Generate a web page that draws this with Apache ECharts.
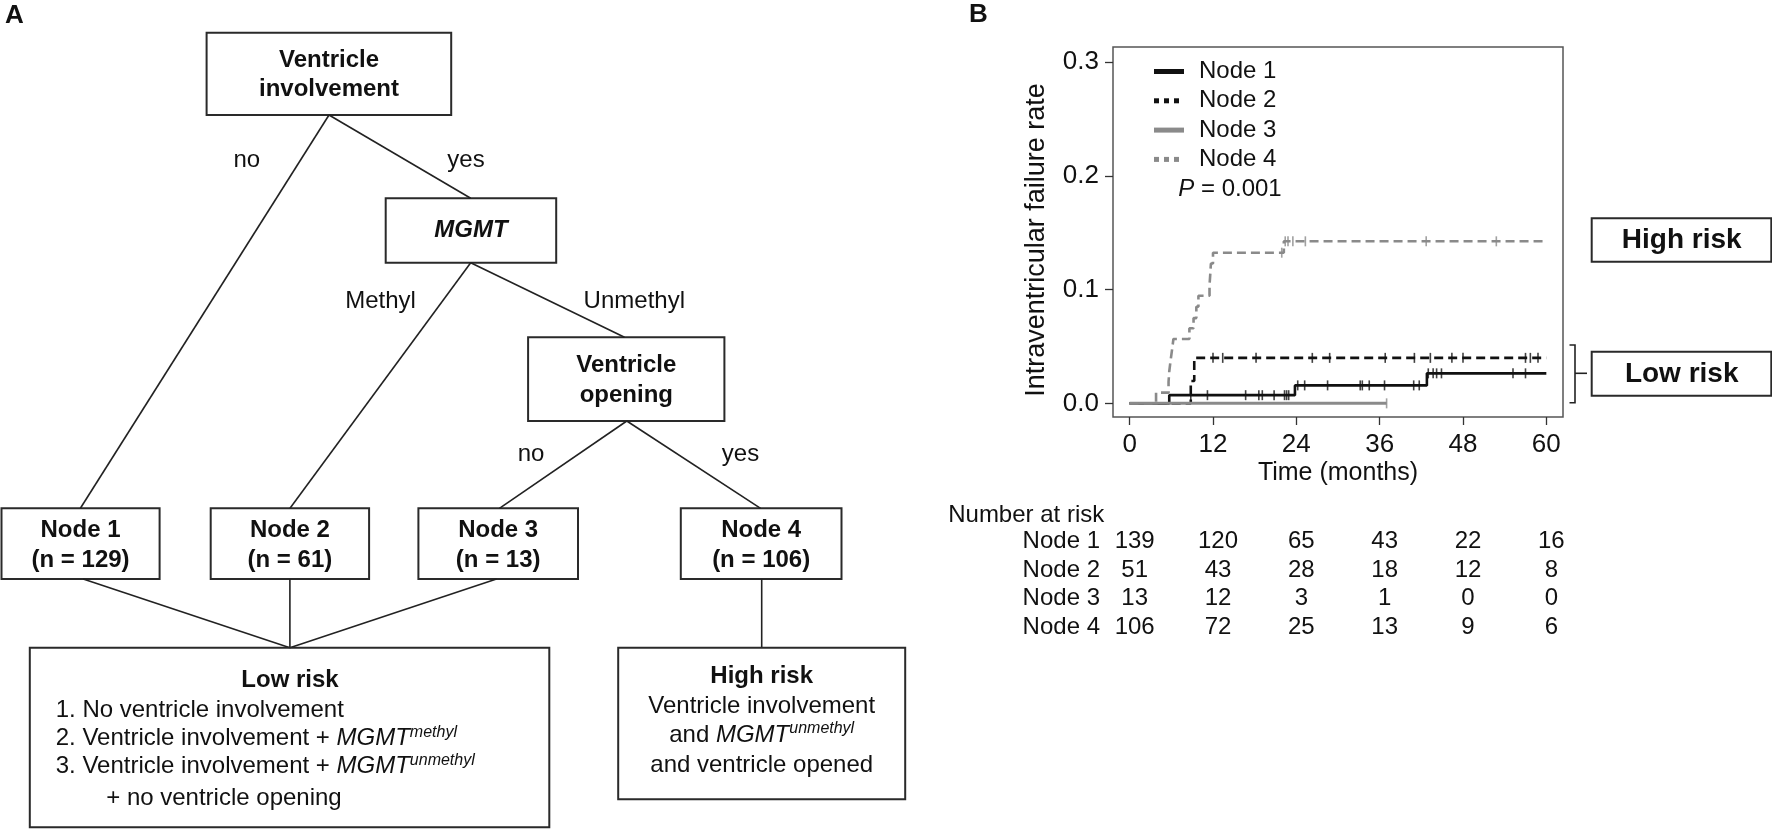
<!DOCTYPE html>
<html><head><meta charset="utf-8">
<script src="https://cdn.jsdelivr.net/npm/echarts@6/dist/echarts.min.js"></script>
<style>html,body{margin:0;padding:0;background:#fff}#c{width:1772px;height:829px}</style>
</head><body><div id="c"></div>
<script>
// ---------- data ----------
const seriesNames = ['Node 1', 'Node 2', 'Node 3', 'Node 4'];
const node1Times = [0, 5.7, 23.8, 42.8, 60];
const node1Rates = [0, 0.0072, 0.0158, 0.0264, 0.0264];
const node1Censor = [8.8, 11.2, 16.7, 18.6, 19.1, 20.8, 22.3, 22.6, 22.9, 24.2, 25.2, 28.5, 33.2, 33.5, 34.5, 36.7, 40.9, 41.7, 43.0, 43.7, 44.2, 44.9, 55.2, 57.0];
const node2Times = [0, 8.8, 9.3, 60];
const node2Rates = [0, 0.0196, 0.0400, 0.0400];
const node2Censor = [12.0, 13.4, 18.2, 26.3, 28.8, 36.8, 41.0, 43.3, 46.4, 48.0, 57.0, 57.7, 58.8];
const node3Times = [0, 37];
const node3Rates = [0, 0];
const node3Censor = [37];
const node4Times = [0, 3.8, 5.6, 5.7, 5.9, 6.1, 6.3, 8.6, 9.2, 9.6, 9.9, 11.5, 11.6, 11.7, 12.0, 22.2, 60];
const node4Rates = [0, 0.0094, 0.019, 0.028, 0.038, 0.047, 0.0566, 0.066, 0.075, 0.085, 0.0947, 0.104, 0.113, 0.123, 0.1325, 0.1425, 0.1425];
const node4Censor = [21.9, 22.4, 22.8, 23.5, 25.3, 42.7, 52.8];
const xTicks = [0, 12, 24, 36, 48, 60];
const yTicks = [0, 0.1, 0.2, 0.3];
const riskTimes = [0, 12, 24, 36, 48, 60];
const riskNode1 = [139, 120, 65, 43, 22, 16];
const riskNode2 = [51, 43, 28, 18, 12, 8];
const riskNode3 = [13, 12, 3, 1, 0, 0];
const riskNode4 = [106, 72, 25, 13, 9, 6];
const treeNodeN = [129, 61, 13, 106];
const pValue = '0.001';

// ---------- styles ----------
const FF = '"Liberation Sans", Arial, Helvetica, sans-serif';
const BLACK = '#111111', GREY = '#8a8a8a', TXT = '#111111';
const colors = [BLACK, BLACK, GREY, GREY];
const dashes = ['solid', [9, 5], 'solid', [9, 5]];
const widths = [2.6, 2.6, 3, 2.6];
const allTimes = [node1Times, node2Times, node3Times, node4Times];
const allRates = [node1Rates, node2Rates, node3Rates, node4Rates];
const allCensor = [node1Censor, node2Censor, node3Censor, node4Censor];
const allRisk = [riskNode1, riskNode2, riskNode3, riskNode4];

function levelAt(times, rates, t) {
  let v = rates[0];
  for (let i = 0; i < times.length; i++) if (times[i] <= t) v = rates[i];
  return v;
}

const series = [];
seriesNames.forEach((nm, k) => {
  series.push({
    name: nm, type: 'line', step: 'end', symbol: 'none', silent: true,
    xAxisIndex: 0, yAxisIndex: 0,
    data: allTimes[k].map((t, i) => [t, allRates[k][i]]),
    lineStyle: { color: colors[k], width: widths[k], type: dashes[k] },
    itemStyle: { color: colors[k] }, z: 2 + k
  });
});
seriesNames.forEach((nm, k) => {
  series.push({
    name: nm + ' censored', type: 'scatter', symbol: 'rect', symbolSize: [1.6, 10], silent: true,
    xAxisIndex: 0, yAxisIndex: 0,
    data: allCensor[k].map(t => [t, levelAt(allTimes[k], allRates[k], t)]),
    itemStyle: { color: colors[k] }, z: 10
  });
});
seriesNames.forEach((nm, k) => {
  series.push({
    name: nm + ' at risk', type: 'scatter', symbolSize: 0, silent: true,
    xAxisIndex: 1, yAxisIndex: 1,
    itemStyle: { color: TXT, opacity: 1 },
    data: riskTimes.map((t, i) => [t, nm, allRisk[k][i]]),
    label: { show: true, position: 'inside', offset: [5, 0], formatter: p => String(p.value[2]),
      fontFamily: FF, fontSize: 24, color: TXT, opacity: 1, textBorderWidth: 0 }
  });
});

// ---------- diagram (panel A) helpers ----------
const G = [];
function box(x, y, w, h) {
  G.push({ type: 'rect', shape: { x: x, y: y, width: w, height: h }, silent: true,
    style: { fill: 'rgba(0,0,0,0)', stroke: '#2a2a2a', lineWidth: 2 } });
}
function seg(x1, y1, x2, y2) {
  G.push({ type: 'line', shape: { x1: x1, y1: y1, x2: x2, y2: y2 }, silent: true,
    style: { stroke: '#222', lineWidth: 1.6 } });
}
function txt(s, x, y, opts) {
  opts = opts || {};
  const st = {
    text: s, x: x, y: y, fill: TXT,
    font: (opts.style || 'normal') + ' ' + (opts.weight || 'normal') + ' ' + (opts.size || 24) + 'px ' + FF,
    textAlign: opts.align || 'center', textVerticalAlign: 'middle'
  };
  if (opts.rich) st.rich = opts.rich;
  G.push({ type: 'text', silent: true, style: st });
}
const supRich = {
  n: { fontSize: 24, fontFamily: FF, lineHeight: 28 },
  i: { fontSize: 24, fontFamily: FF, fontStyle: 'italic', lineHeight: 28 },
  s: { fontSize: 16, fontFamily: FF, fontStyle: 'italic', lineHeight: 20, verticalAlign: 'top' }
};

// panel labels
txt('A', 5, 16, { weight: 'bold', size: 26, align: 'left' });
txt('B', 969, 15, { weight: 'bold', size: 26, align: 'left' });

// tree boxes
box(206.6, 32.7, 244.6, 82.3);
txt('Ventricle', 329, 60, { weight: 'bold' });
txt('involvement', 329, 89.3, { weight: 'bold' });
box(385.7, 198.3, 170.5, 64.4);
txt('MGMT', 471, 230.5, { weight: 'bold', style: 'italic' });
box(528.1, 337.3, 196.3, 83.7);
txt('Ventricle', 626.3, 365.7, { weight: 'bold' });
txt('opening', 626.3, 395, { weight: 'bold' });

const nodeBoxes = [[1.5, 158.1], [210.7, 158.4], [418.4, 159.6], [680.8, 160.7]];
nodeBoxes.forEach((b, k) => {
  box(b[0], 508.3, b[1], 70.7);
  txt(seriesNames[k], b[0] + b[1] / 2, 530, { weight: 'bold' });
  txt('(n = ' + treeNodeN[k] + ')', b[0] + b[1] / 2, 560, { weight: 'bold' });
});

// tree edges
seg(329, 115, 80.4, 508.3);
seg(329, 115, 470.7, 198.3);
seg(470.7, 262.7, 290, 508.3);
seg(470.7, 262.7, 624.5, 337.3);
seg(626.8, 421, 499.4, 508.3);
seg(626.8, 421, 760.6, 508.3);
seg(83.2, 579, 289.9, 647.7);
seg(289.9, 579, 289.9, 647.7);
seg(496.5, 579, 289.9, 647.7);
seg(761.7, 579, 761.7, 647.7);

// edge labels
txt('no', 246.8, 160);
txt('yes', 466, 160);
txt('Methyl', 380.6, 301.7);
txt('Unmethyl', 634.3, 301.7);
txt('no', 531, 454);
txt('yes', 740.5, 454);

// risk group boxes
box(29.8, 647.7, 519.5, 179.5);
txt('Low risk', 290, 680, { weight: 'bold' });
txt('1. No ventricle involvement', 55.7, 710, { align: 'left' });
txt('{n|2. Ventricle involvement + }{i|MGMT}{s|methyl}', 55.7, 738.3, { align: 'left', rich: supRich });
txt('{n|3. Ventricle involvement + }{i|MGMT}{s|unmethyl}', 55.7, 766.7, { align: 'left', rich: supRich });
txt('+ no ventricle opening', 106.2, 798.3, { align: 'left' });

box(618.2, 647.7, 287, 151.6);
txt('High risk', 761.7, 676.7, { weight: 'bold' });
txt('Ventricle involvement', 761.7, 706.7);
txt('{n|and }{i|MGMT}{s|unmethyl}', 761.7, 735, { rich: supRich });
txt('and ventricle opened', 761.7, 765);

// panel B extras
txt('{i|P}{n| = ' + pValue + '}', 1178.3, 189, { align: 'left', rich: supRich });
txt('Number at risk', 948.2, 515, { align: 'left' });
box(1591.7, 218.3, 179.6, 43.4);
txt('High risk', 1681.7, 240.5, { weight: 'bold', size: 28 });
box(1591.7, 351.7, 179.6, 44);
txt('Low risk', 1681.7, 374.5, { weight: 'bold', size: 28 });
G.push({ type: 'polyline', silent: true, shape: { points: [[1569.5, 345], [1575, 345], [1575, 402.7], [1569.5, 402.7]] },
  style: { fill: null, stroke: '#222', lineWidth: 1.6 } });
seg(1575, 373.3, 1587, 373.3);

// ---------- chart ----------
const chart = echarts.init(document.getElementById('c'), null, { renderer: 'canvas' });
chart.setOption({
  animation: false,
  backgroundColor: '#ffffff',
  textStyle: { fontFamily: FF },
  legend: {
    orient: 'vertical', left: 1146.5, top: 54.5, itemWidth: 30, itemHeight: 14, itemGap: 5.3,
    selectedMode: false,
    textStyle: { fontFamily: FF, fontSize: 24, color: TXT, padding: [0, 0, 0, 10] },
    lineStyle: { width: 5 },
    itemStyle: { opacity: 0 },
    data: [
      { name: 'Node 1', lineStyle: { type: 'solid', width: 5 }, itemStyle: { opacity: 0 } },
      { name: 'Node 2', lineStyle: { type: [5, 5], width: 5 }, itemStyle: { opacity: 0 } },
      { name: 'Node 3', lineStyle: { type: 'solid', width: 5 }, itemStyle: { opacity: 0 } },
      { name: 'Node 4', lineStyle: { type: [5, 5], width: 5 }, itemStyle: { opacity: 0 } }
    ]
  },
  grid: [
    { left: 1113, top: 47, width: 450, height: 370, show: true, borderColor: '#555', borderWidth: 1.5,
      backgroundColor: 'rgba(0,0,0,0)', containLabel: false, outerBoundsMode: 'none' },
    { left: 1113, top: 527.5, width: 450, height: 114, show: false, containLabel: false, outerBoundsMode: 'none' }
  ],
  xAxis: [
    { type: 'value', gridIndex: 0, min: -2.4, max: 62.4, position: 'bottom',
      axisLine: { show: false, onZero: false }, splitLine: { show: false },
      axisTick: { show: true, length: 8, inside: false, customValues: xTicks, lineStyle: { color: '#333', width: 1.3 } },
      axisLabel: { customValues: xTicks, fontFamily: FF, fontSize: 26, color: TXT, margin: 15 },
      name: 'Time (months)', nameLocation: 'middle', nameGap: 44,
      nameTextStyle: { fontFamily: FF, fontSize: 25, color: TXT } },
    { type: 'value', gridIndex: 1, min: -2.4, max: 62.4, show: false }
  ],
  yAxis: [
    { type: 'value', gridIndex: 0, min: -0.012, max: 0.3134, position: 'left',
      axisLine: { show: false, onZero: false }, splitLine: { show: false },
      axisTick: { show: true, length: 8, inside: false, customValues: yTicks, lineStyle: { color: '#333', width: 1.3 } },
      axisLabel: { customValues: yTicks, formatter: v => Number(v).toFixed(1), fontFamily: FF, fontSize: 26, color: TXT, margin: 14 },
      name: 'Intraventricular failure rate', nameLocation: 'middle', nameRotate: 90, nameGap: 63,
      nameTextStyle: { fontFamily: FF, fontSize: 27, color: TXT, padding: [0, 16, 0, 0] } },
    { type: 'category', gridIndex: 1, inverse: true, data: seriesNames,
      axisLine: { show: false, onZero: false }, axisTick: { show: false }, splitLine: { show: false },
      axisLabel: { interval: 0, fontFamily: FF, fontSize: 24, color: TXT, margin: 13 } }
  ],
  series: series,
  graphic: { elements: G }
});
</script>
</body></html>
